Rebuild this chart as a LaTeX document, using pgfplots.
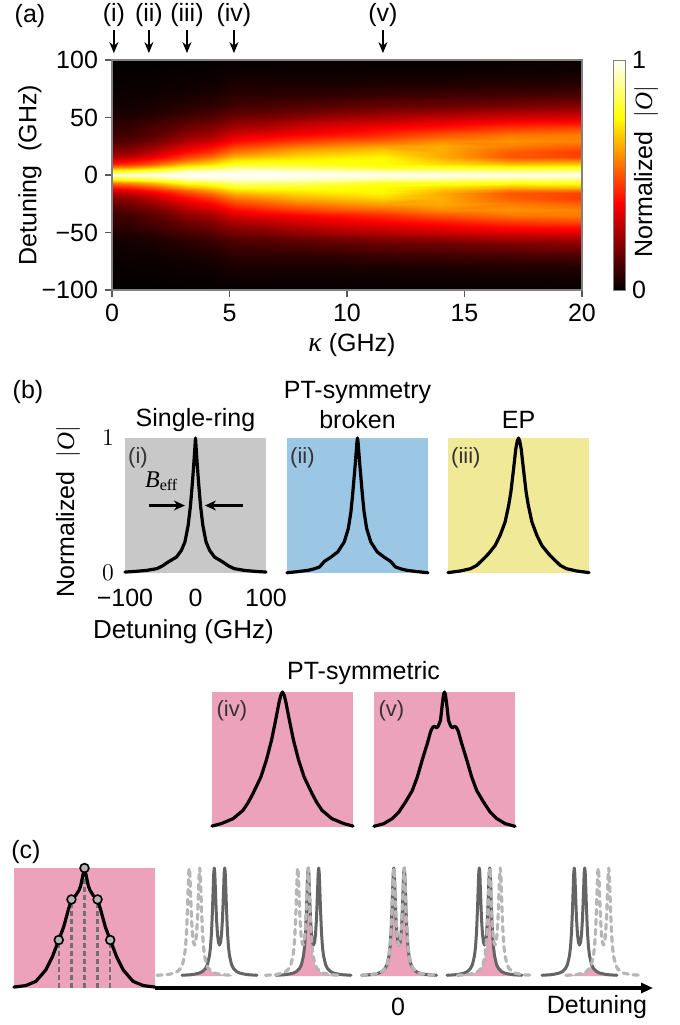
\documentclass[border=0pt]{standalone}
\usepackage{fontspec}
\setmainfont{Liberation Sans}
\newfontfamily\lserif{Liberation Serif}
\usepackage{pgfplots}
\pgfplotsset{compat=1.18}
\usepackage{pgfplotstable}
\usetikzlibrary{arrows.meta}

\newcommand{\fs}{\fontsize{12.5}{14.5}\selectfont}
\newcommand{\fsb}{\fontsize{13}{15}\selectfont}
\newcommand{\fsl}{\fontsize{11}{13}\selectfont}
\newcommand{\absO}{$\bigl|\mbox{\lserif\itshape O}\bigr|$}

\definecolor{pgray}{RGB}{200,200,200}
\definecolor{pblue}{RGB}{155,198,228}
\definecolor{pyellow}{RGB}{239,233,152}
\definecolor{ppink}{RGB}{237,162,187}
\definecolor{solidg}{RGB}{100,100,100}
\definecolor{dashg}{RGB}{182,182,182}
\definecolor{vlineg}{RGB}{112,112,112}
\definecolor{mkg}{RGB}{180,180,180}

% upper half of the map (Detuning >= 0); the lower half is its mirror image
\pgfplotstableread[row sep=\\]{
k d v\\
0 0 1\\ 0.8 0 1\\ 1.6 0 1\\ 2.4 0 1\\ 3.2 0 1\\ 4.2 0 1\\ 5.2 0 1\\ 6.5 0 1\\ 8 0 1\\ 9.7 0 1\\ 11.5 0 1\\ 14 0 1\\ 17 0 1\\ 20 0 1\\
0 2 .85\\ 0.8 2 .87\\ 1.6 2 .9\\ 2.4 2 .94\\ 3.2 2 .97\\ 4.2 2 .98\\ 5.2 2 .98\\ 6.5 2 .98\\ 8 2 .97\\ 9.7 2 .96\\ 11.5 2 .95\\ 14 2 .94\\ 17 2 .93\\ 20 2 .93\\
0 4 .72\\ 0.8 4 .75\\ 1.6 4 .79\\ 2.4 4 .84\\ 3.2 4 .9\\ 4.2 4 .92\\ 5.2 4 .94\\ 6.5 4 .94\\ 8 4 .93\\ 9.7 4 .91\\ 11.5 4 .88\\ 14 4 .87\\ 17 4 .85\\ 20 4 .86\\
0 7 .55\\ 0.8 7 .58\\ 1.6 7 .63\\ 2.4 7 .7\\ 3.2 7 .77\\ 4.2 7 .8\\ 5.2 7 .87\\ 6.5 7 .86\\ 8 7 .85\\ 9.7 7 .82\\ 11.5 7 .78\\ 14 7 .78\\ 17 7 .76\\ 20 7 .77\\
0 10 .42\\ 0.8 10 .45\\ 1.6 10 .5\\ 2.4 10 .57\\ 3.2 10 .65\\ 4.2 10 .7\\ 5.2 10 .79\\ 6.5 10 .79\\ 8 10 .79\\ 9.7 10 .77\\ 11.5 10 .75\\ 14 10 .7\\ 17 10 .65\\ 20 10 .67\\
0 13 .33\\ 0.8 13 .36\\ 1.6 13 .41\\ 2.4 13 .47\\ 3.2 13 .54\\ 4.2 13 .61\\ 5.2 13 .71\\ 6.5 13 .73\\ 8 13 .74\\ 9.7 13 .75\\ 11.5 13 .745\\ 14 13 .66\\ 17 13 .56\\ 20 13 .56\\
0 16 .26\\ 0.8 16 .29\\ 1.6 16 .34\\ 2.4 16 .4\\ 3.2 16 .47\\ 4.2 16 .54\\ 5.2 16 .64\\ 6.5 16 .67\\ 8 16 .7\\ 9.7 16 .72\\ 11.5 16 .74\\ 14 16 .63\\ 17 16 .5\\ 20 16 .47\\
0 20 .2\\ 0.8 20 .22\\ 1.6 20 .27\\ 2.4 20 .33\\ 3.2 20 .39\\ 4.2 20 .45\\ 5.2 20 .55\\ 6.5 20 .59\\ 8 20 .64\\ 9.7 20 .66\\ 11.5 20 .69\\ 14 20 .63\\ 17 20 .51\\ 20 20 .46\\
0 25 .15\\ 0.8 25 .17\\ 1.6 25 .21\\ 2.4 25 .26\\ 3.2 25 .32\\ 4.2 25 .37\\ 5.2 25 .46\\ 6.5 25 .5\\ 8 25 .55\\ 9.7 25 .58\\ 11.5 25 .61\\ 14 25 .63\\ 17 25 .56\\ 20 25 .52\\
0 30 .11\\ 0.8 30 .13\\ 1.6 30 .16\\ 2.4 30 .2\\ 3.2 30 .26\\ 4.2 30 .3\\ 5.2 30 .38\\ 6.5 30 .42\\ 8 30 .46\\ 9.7 30 .5\\ 11.5 30 .52\\ 14 30 .58\\ 17 30 .59\\ 20 30 .57\\
0 35 .09\\ 0.8 35 .1\\ 1.6 35 .13\\ 2.4 35 .16\\ 3.2 35 .21\\ 4.2 35 .24\\ 5.2 35 .32\\ 6.5 35 .35\\ 8 35 .38\\ 9.7 35 .41\\ 11.5 35 .44\\ 14 35 .5\\ 17 35 .55\\ 20 35 .56\\
0 40 .075\\ 0.8 40 .085\\ 1.6 40 .11\\ 2.4 40 .13\\ 3.2 40 .17\\ 4.2 40 .2\\ 5.2 40 .26\\ 6.5 40 .28\\ 8 40 .32\\ 9.7 40 .35\\ 11.5 40 .38\\ 14 40 .42\\ 17 40 .47\\ 20 40 .49\\
0 45 .06\\ 0.8 45 .07\\ 1.6 45 .09\\ 2.4 45 .11\\ 3.2 45 .14\\ 4.2 45 .16\\ 5.2 45 .21\\ 6.5 45 .23\\ 8 45 .27\\ 9.7 45 .3\\ 11.5 45 .32\\ 14 45 .35\\ 17 45 .39\\ 20 45 .4\\
0 50 .045\\ 0.8 50 .05\\ 1.6 50 .065\\ 2.4 50 .085\\ 3.2 50 .105\\ 4.2 50 .125\\ 5.2 50 .17\\ 6.5 50 .18\\ 8 50 .21\\ 9.7 50 .24\\ 11.5 50 .26\\ 14 50 .29\\ 17 50 .32\\ 20 50 .33\\
0 55 .03\\ 0.8 55 .035\\ 1.6 55 .045\\ 2.4 55 .06\\ 3.2 55 .08\\ 4.2 55 .095\\ 5.2 55 .13\\ 6.5 55 .14\\ 8 55 .16\\ 9.7 55 .18\\ 11.5 55 .2\\ 14 55 .22\\ 17 55 .25\\ 20 55 .26\\
0 60 .025\\ 0.8 60 .028\\ 1.6 60 .035\\ 2.4 60 .045\\ 3.2 60 .055\\ 4.2 60 .07\\ 5.2 60 .1\\ 6.5 60 .11\\ 8 60 .12\\ 9.7 60 .135\\ 11.5 60 .15\\ 14 60 .16\\ 17 60 .18\\ 20 60 .2\\
0 70 .018\\ 0.8 70 .02\\ 1.6 70 .022\\ 2.4 70 .027\\ 3.2 70 .033\\ 4.2 70 .04\\ 5.2 70 .062\\ 6.5 70 .065\\ 8 70 .068\\ 9.7 70 .072\\ 11.5 70 .085\\ 14 70 .09\\ 17 70 .1\\ 20 70 .11\\
0 80 .012\\ 0.8 80 .013\\ 1.6 80 .014\\ 2.4 80 .016\\ 3.2 80 .019\\ 4.2 80 .023\\ 5.2 80 .038\\ 6.5 80 .038\\ 8 80 .035\\ 9.7 80 .035\\ 11.5 80 .04\\ 14 80 .042\\ 17 80 .048\\ 20 80 .052\\
0 90 .008\\ 0.8 90 .009\\ 1.6 90 .009\\ 2.4 90 .01\\ 3.2 90 .011\\ 4.2 90 .013\\ 5.2 90 .02\\ 6.5 90 .02\\ 8 90 .018\\ 9.7 90 .018\\ 11.5 90 .02\\ 14 90 .02\\ 17 90 .022\\ 20 90 .025\\
0 100 .005\\ 0.8 100 .005\\ 1.6 100 .005\\ 2.4 100 .005\\ 3.2 100 .006\\ 4.2 100 .007\\ 5.2 100 .008\\ 6.5 100 .009\\ 8 100 .009\\ 9.7 100 .009\\ 11.5 100 .009\\ 14 100 .009\\ 17 100 .01\\ 20 100 .012\\
}\heat

% double-peaked line shape of panel (c), in relative detuning units
\pgfplotstableread[row sep=\\]{
x y\\
-37.5 .007\\ -30 .011\\ -25 .017\\ -20 .028\\ -17 .042\\ -14 .0695\\ -12 .1075\\ -10 .189\\ -9 .268\\ -8 .4\\ -7 .618\\ -6.5 .758\\ -6 .895\\ -5.75 .95\\ -5.25 1\\ -4.75 .957\\ -4.5 .906\\ -4 .777\\ -3 .533\\ -2 .383\\ -1 .309\\ 0 .287\\
1 .309\\ 2 .383\\ 3 .533\\ 4 .777\\ 4.5 .906\\ 4.75 .957\\ 5.25 1\\ 5.75 .95\\ 6 .895\\ 6.5 .758\\ 7 .618\\ 8 .4\\ 9 .268\\ 10 .189\\ 12 .1075\\ 14 .0695\\ 17 .042\\ 20 .028\\ 25 .017\\ 30 .011\\ 37.5 .007\\
}\cshape

% overlap (pink) when one peak is shared
\pgfplotstableread[row sep=\\]{
x y\\
-32.25 .007\\ -24.75 .011\\ -19.75 .017\\ -14.75 .028\\ -11.75 .042\\ -8.75 .0695\\ -6.75 .1075\\ -4.75 .189\\ -3.75 .268\\ -2.75 .4\\ -1.75 .618\\ -1.25 .758\\ -0.75 .895\\ -0.5 .95\\ 0 1\\
0.5 .95\\ 0.75 .895\\ 1.25 .758\\ 1.75 .618\\ 2.75 .4\\ 3.75 .268\\ 4.75 .189\\ 6.75 .1075\\ 8.75 .0695\\ 11.75 .042\\ 14.75 .028\\ 19.75 .017\\ 24.75 .011\\ 32.25 .007\\
}\pinkA

% overlap (pink) for the outer groups
\pgfplotstableread[row sep=\\]{
x y\\
-25 .007\\ -17.5 .011\\ -12.5 .017\\ -7.5 .028\\ -5 .04\\ -2.5 .058\\ 0 .095\\ 2.5 .058\\ 5 .04\\ 7.5 .028\\ 12.5 .017\\ 17.5 .011\\ 25 .007\\
}\pinkB

\pgfplotsset{
  minipanel/.style={at={#1}, anchor=south west, scale only axis, width=70.5pt, height=67.5pt,
    xmin=-100, xmax=100, ymin=0, ymax=1, axis line style={draw=none}, tick style={draw=none},
    xtick=\empty, ytick=\empty, clip=false},
  curve/.style={black, line width=1.6pt, line join=round, line cap=round},
}
\tikzset{
  plab/.style={anchor=north west, font=\fsl, text=black!80, inner sep=0pt},
  karrow/.style={-{Stealth[length=5.5pt,width=4.5pt]}, line width=1.2pt},
}

\begin{document}
\begin{tikzpicture}
\useasboundingbox (0,0) rectangle (340pt,-512.5pt);

% ---------------- (a) ----------------
\begin{axis}[
  at={(56pt,-145pt)}, anchor=south west,
  scale only axis, width=235pt, height=115pt,
  xmin=0, xmax=20, ymin=-100, ymax=100,
  xtick={0,5,10,15,20}, xticklabels={0,5,10,15,20},
  ytick={-100,-50,0,50,100}, yticklabels={−100,−50,0,50,100},
  tick align=outside, tick pos=left, major tick length=3.5pt,
  tick style={black!65, line width=0.6pt},
  axis line style={black!50, line width=0.6pt},
  tick label style={font=\fs},
  axis on top, clip=false,
  colormap={hotref}{rgb(0cm)=(0,0,0); rgb(3cm)=(1,0,0); rgb(6cm)=(1,1,0); rgb(8cm)=(1,1,1)},
  point meta min=0, point meta max=1,
  colorbar,
  colorbar style={at={(parent axis.north east)}, anchor=north west, xshift=7pt,
    width=6pt, ytick={0,1}, yticklabels={0,1}, major tick length=0pt,
    tick label style={font=\fs}, axis line style={black!50, line width=0.5pt}},
]
\addplot[surf, shader=interp, mesh/cols=14, point meta=explicit] table[x=k, y=d, meta=v]{\heat};
\addplot[surf, shader=interp, mesh/cols=14, point meta=explicit] table[x=k, y expr=-\thisrow{d}, meta=v]{\heat};
\draw[karrow] (axis cs:0.08,126) -- (axis cs:0.08,106);
\draw[karrow] (axis cs:1.57,126) -- (axis cs:1.57,106);
\draw[karrow] (axis cs:3.19,126) -- (axis cs:3.19,106);
\draw[karrow] (axis cs:5.19,126) -- (axis cs:5.19,106);
\draw[karrow] (axis cs:11.53,126) -- (axis cs:11.53,106);
\node[font=\fs] at (axis cs:0.08,139) {(i)};
\node[font=\fs] at (axis cs:1.57,139) {(ii)};
\node[font=\fs] at (axis cs:3.19,139) {(iii)};
\node[font=\fs] at (axis cs:5.19,139) {(iv)};
\node[font=\fs] at (axis cs:11.53,139) {(v)};
\end{axis}
\node[font=\fs] at (15pt,-8pt) {(a)};
\node[font=\fs, rotate=90] at (15pt,-87.5pt) {Detuning~ (GHz)};
\node[font=\fs] at (176pt,-172.5pt) {{\lserif\itshape\fontsize{14}{15}\selectfont κ} (GHz)};
\node[font=\fs, rotate=90] at (323pt,-86pt) {Normalized\ \ \absO};

% ---------------- (b) ----------------
\node[font=\fs] at (14pt,-196pt) {(b)};
\node[font=\fs] at (97.75pt,-210pt) {Single-ring};
\node[font=\fs] at (178.75pt,-196pt) {PT-symmetry};
\node[font=\fs] at (178.75pt,-210pt) {broken};
\node[font=\fs] at (259.25pt,-210pt) {EP};
\node[font=\fs, rotate=90] at (34pt,-256pt) {Normalized\ \ \absO};
\node[font=\fsb] at (91.75pt,-316pt) {Detuning (GHz)};
\node[font=\fs] at (181.75pt,-336.5pt) {PT-symmetric};

\begin{axis}[minipanel={(62.5pt,-286.5pt)}, axis background/.style={fill=pgray},
  xtick={-100,0,100}, xticklabels={−100,0,100}, ytick={0,1},
  tick label style={font=\fs}, xticklabel style={yshift=-4.5pt}, yticklabel style={xshift=-2pt}]
\addplot[curve] coordinates {(-100,0.007) (-85,0.012) (-70,0.019) (-55,0.032) (-47,0.052) (-39,0.081) (-27,0.118) (-20,0.168) (-15,0.23) (-10.4,0.353) (-7.1,0.5) (-4.3,0.674) (-1.9,0.847) (0,1)
 (1.9,0.847) (4.3,0.674) (7.1,0.5) (10.4,0.353) (15,0.23) (20,0.168) (27,0.118) (39,0.081) (47,0.052) (55,0.032) (70,0.019) (85,0.012) (100,0.007)};
\node[plab] at (rel axis cs:0.02,0.935) {(i)};
\node[font=\fontsize{12}{13}\selectfont\lserif] at (axis cs:-48,0.68) {\textit{B}\textsubscript{eff}};
\draw[-{Stealth[length=5.5pt,width=5pt]}, line width=1.3pt] (axis cs:-66,0.5) -- (axis cs:-15,0.5);
\draw[-{Stealth[length=5.5pt,width=5pt]}, line width=1.3pt] (axis cs:67,0.5) -- (axis cs:13.5,0.5);
\end{axis}

\begin{axis}[minipanel={(143.5pt,-286.5pt)}, axis background/.style={fill=pblue}]
\addplot[curve] coordinates {(-100,0.002) (-85,0.01) (-70,0.02) (-62,0.03) (-54,0.044) (-47,0.086) (-37.6,0.118) (-28,0.156) (-18.8,0.23) (-13,0.33) (-9.4,0.45) (-7,0.575) (-3.8,0.77) (-1.8,0.9) (-0.8,0.97) (0,1)
 (0.8,0.97) (1.8,0.9) (3.8,0.77) (7,0.575) (9.4,0.45) (13,0.33) (18.8,0.23) (28,0.156) (37.6,0.118) (47,0.086) (54,0.044) (62,0.03) (70,0.02) (85,0.01) (100,0.002)};
\node[plab] at (rel axis cs:0.02,0.935) {(ii)};
\end{axis}

\begin{axis}[minipanel={(224pt,-286.5pt)}, axis background/.style={fill=pyellow}]
\addplot[curve] coordinates {(-100,0.003) (-82.5,0.015) (-68,0.032) (-59,0.057) (-49.5,0.106) (-42.5,0.143) (-33,0.205) (-26,0.28) (-19,0.378) (-14,0.5) (-10.8,0.6) (-7,0.77) (-3.8,0.92) (-1.8,0.975) (0,1)
 (1.8,0.975) (3.8,0.92) (7,0.77) (10.8,0.6) (14,0.5) (19,0.378) (26,0.28) (33,0.205) (42.5,0.143) (49.5,0.106) (59,0.057) (68,0.032) (82.5,0.015) (100,0.003)};
\node[plab] at (rel axis cs:0.02,0.935) {(iii)};
\end{axis}

\begin{axis}[minipanel={(106pt,-413.5pt)}, axis background/.style={fill=ppink}]
\addplot[curve] coordinates {(-100,0.007) (-87,0.025) (-70,0.062) (-56,0.124) (-48.8,0.18) (-41.7,0.25) (-30.7,0.37) (-22.6,0.5) (-15.5,0.645) (-9.8,0.79) (-5,0.92) (-2.5,0.975) (0,1)
 (2.5,0.975) (5,0.92) (9.8,0.79) (15.5,0.645) (22.6,0.5) (30.7,0.37) (41.7,0.25) (48.8,0.18) (56,0.124) (70,0.062) (87,0.025) (100,0.007)};
\node[plab] at (rel axis cs:0.03,0.94) {(iv)};
\end{axis}

\begin{axis}[minipanel={(187pt,-413.5pt)}, axis background/.style={fill=ppink}]
\addplot[curve] coordinates {(-100,0.005) (-86,0.025) (-74.3,0.062) (-64.8,0.11) (-55.2,0.186) (-45.7,0.27) (-38.6,0.37) (-31.4,0.5) (-24.3,0.62) (-19.5,0.71) (-16.5,0.74) (-14,0.745) (-11,0.735) (-8.6,0.75) (-5.7,0.79) (-2.9,0.92) (-1.3,0.98) (0,1)
 (1.3,0.98) (2.9,0.92) (5.7,0.79) (8.6,0.75) (11,0.735) (14,0.745) (16.5,0.74) (19.5,0.71) (24.3,0.62) (31.4,0.5) (38.6,0.37) (45.7,0.27) (55.2,0.186) (64.8,0.11) (74.3,0.062) (86,0.025) (100,0.005)};
\node[plab] at (rel axis cs:0.03,0.94) {(v)};
\end{axis}

% ---------------- (c) ----------------
\node[font=\fs] at (13pt,-426pt) {(c)};
\begin{axis}[at={(7pt,-494pt)}, anchor=south west, scale only axis, width=70.5pt, height=60pt,
  xmin=-100, xmax=100, ymin=0, ymax=1, axis line style={draw=none}, tick style={draw=none},
  xtick=\empty, ytick=\empty, clip=false, axis background/.style={fill=ppink}]
\addplot[ycomb, vlineg, line width=1.1pt, dash pattern=on 2.4pt off 1.6pt] coordinates {(-36.5,0.4) (-18.5,0.738) (0,1) (18.5,0.738) (36.5,0.4)};
\addplot[curve] coordinates {(-100,0.008) (-83.5,0.02) (-69,0.055) (-55,0.15) (-45.6,0.26) (-36.5,0.4) (-29.5,0.51) (-23,0.65) (-18.5,0.738) (-12,0.775) (-7.8,0.815) (-5.5,0.85) (-3,0.92) (0,1)
 (3,0.92) (5.5,0.85) (7.8,0.815) (12,0.775) (18.5,0.738) (23,0.65) (29.5,0.51) (36.5,0.4) (45.6,0.26) (55,0.15) (69,0.055) (83.5,0.02) (100,0.008)};
\addplot[only marks, mark=*, mark size=2.2pt, mark options={fill=mkg, draw=black, line width=0.8pt}] coordinates {(-36.5,0.4) (-18.5,0.738) (0,1) (18.5,0.738) (36.5,0.4)};
\end{axis}

\begin{axis}[at={(77.5pt,-494pt)}, anchor=south west, scale only axis, width=249pt, height=60pt,
  xmin=-244, xmax=254, ymin=-0.111, ymax=1, hide axis, clip=false]
% overlaps
\addplot[fill=ppink, draw=none] table[x expr=\thisrow{x}-192, y=y]{\pinkB} \closedcycle;
\addplot[fill=ppink, draw=none] table[x expr=\thisrow{x}-90.75, y=y]{\pinkA} \closedcycle;
\addplot[fill=ppink, draw=none] table[x=x, y=y]{\cshape} \closedcycle;
\addplot[fill=ppink, draw=none] table[x expr=\thisrow{x}+90.75, y=y]{\pinkA} \closedcycle;
\addplot[fill=ppink, draw=none] table[x expr=\thisrow{x}+192.5, y=y]{\pinkB} \closedcycle;
% solid line shapes
\pgfplotsinvokeforeach{-179.5,-85.5,0,85.5,180.5}{
  \addplot[solidg, line width=1.5pt, line join=round, line cap=round] table[x expr=\thisrow{x}+#1, y=y]{\cshape};
}
% dashed shifted shapes
\pgfplotsinvokeforeach{-204.5,-96,0,96,204.5}{
  \addplot[dashg, line width=1.6pt, line join=round, line cap=round, dash pattern=on 2.6pt off 2.4pt] table[x expr=\thisrow{x}+#1, y=y]{\cshape};
}
\draw[-{Triangle[length=6pt,width=5pt]}, line width=1.7pt] (axis cs:-244,-0.111) -- (axis cs:254,-0.111);
\end{axis}
\node[font=\fs] at (199pt,-503.5pt) {0};
\node[font=\fs, anchor=east] at (327pt,-503.5pt) {Detuning};
\end{tikzpicture}
\end{document}
